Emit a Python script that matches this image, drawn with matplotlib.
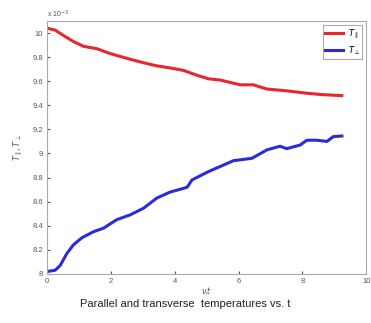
import numpy as np
import matplotlib
matplotlib.use("Agg")
import matplotlib.pyplot as plt

plt.rcParams['font.family'] = ['Liberation Sans', 'DejaVu Sans']

# time (nu_i t) and temperatures (x 1e-3)
t_par = [0, 0.25, 0.51, 0.82, 1.14, 1.56, 1.97, 2.5, 2.92, 3.39, 3.86, 4.27, 4.69,
         5.06, 5.42, 6.05, 6.46, 6.89, 7.51, 8.14, 8.56, 9.24]
T_par = [10.04, 10.025, 9.98, 9.93, 9.89, 9.87, 9.83, 9.79, 9.76, 9.73, 9.71, 9.69, 9.65,
         9.62, 9.61, 9.57, 9.57, 9.535, 9.52, 9.50, 9.49, 9.48]

t_perp = [0, 0.25, 0.41, 0.62, 0.82, 1.09, 1.45, 1.77, 2.18, 2.6, 3.02, 3.44, 3.86, 4.27,
          4.39, 4.54, 5.06, 5.32, 5.84, 6.42, 6.89, 7.3, 7.51, 7.93, 8.14, 8.45, 8.77,
          8.97, 9.24]
T_perp = [8.02, 8.03, 8.07, 8.17, 8.24, 8.30, 8.35, 8.38, 8.45, 8.49, 8.545, 8.63, 8.68,
          8.71, 8.72, 8.78, 8.85, 8.88, 8.94, 8.96, 9.03, 9.06, 9.04, 9.07, 9.11, 9.11,
          9.10, 9.14, 9.145]

xticks = [0, 2, 4, 6, 8, 10]
yticks = [8, 8.2, 8.4, 8.6, 8.8, 9, 9.2, 9.4, 9.6, 9.8, 10]
ytick_labels = ['8', '8.2', '8.4', '8.6', '8.8', '9', '9.2', '9.4', '9.6', '9.8', '10']

fig = plt.figure(figsize=(3.71, 3.23), dpi=100)
ax = fig.add_axes([0.127, 0.152, 0.86, 0.783])

ax.plot(t_par, T_par, color='#e8262b', lw=2.2, label=r'$T_{\parallel}$')
ax.plot(t_perp, T_perp, color='#2b2bd8', lw=2.2, label=r'$T_{\perp}$')

ax.set_xlim(0, 10)
ax.set_ylim(8, 10.1)
ax.set_xticks(xticks)
ax.set_yticks(yticks)
ax.set_yticklabels(ytick_labels)
ax.tick_params(labelsize=5.5, length=2, direction='in', colors='#555555', pad=3)
for s in ax.spines.values():
    s.set_color('#aaaaaa')

ax.text(0, 1.005, r'x 10$^{-3}$', transform=ax.transAxes, fontsize=5, color='#555555',
        va='bottom')
ax.set_xlabel(r'$\nu_i t$', fontsize=5.5, color='#555555', labelpad=0)
ax.set_ylabel(r'$T_{\parallel}, T_{\perp}$', fontsize=6, color='#555555', labelpad=5)

leg = ax.legend(loc='upper right', fontsize=6, handlelength=2.2, borderpad=0.3,
                labelspacing=0.4, handletextpad=0.5, fancybox=False, framealpha=1)
leg.get_frame().set_edgecolor('#aaaaaa')
leg.get_frame().set_linewidth(0.8)

fig.text(0.5, 0.058, 'Parallel and transverse  temperatures vs. t', ha='center',
         va='center', fontsize=8, color='#222222')

fig.savefig('out.png', dpi=100)
